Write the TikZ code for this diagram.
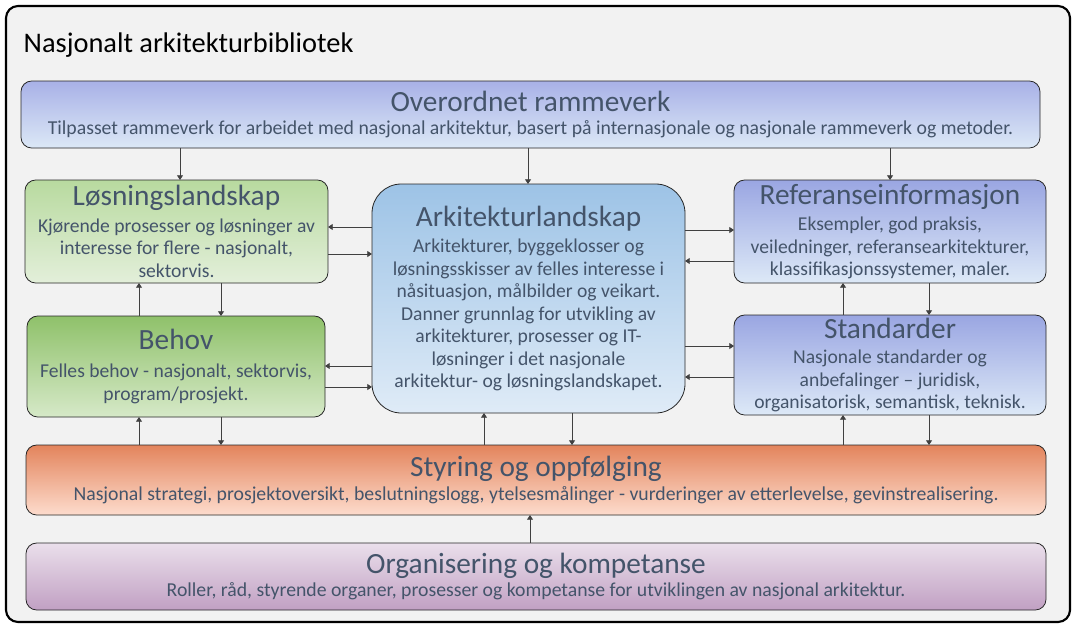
\documentclass[tikz,border=0pt]{standalone}
\usepackage{fontspec}
\setmainfont{Carlito}
\usepackage{tikz}
\usetikzlibrary{arrows.meta,positioning,calc}
\definecolor{txt}{HTML}{44546A}
\definecolor{arrgray}{HTML}{404040}
\definecolor{panel}{HTML}{F2F2F2}
\definecolor{lavtop}{HTML}{A8B1E7}
\definecolor{lavbot}{HTML}{DCE8F6}
\definecolor{reftop}{HTML}{9AA6E2}
\definecolor{refbot}{HTML}{DDE9F7}
\definecolor{arktop}{HTML}{9DC3E6}
\definecolor{arkbot}{HTML}{DFEBF7}
\definecolor{lostop}{HTML}{B8DA9F}
\definecolor{losbot}{HTML}{E3EFDA}
\definecolor{behtop}{HTML}{8FC16A}
\definecolor{behbot}{HTML}{D6E9C8}
\definecolor{stytop}{HTML}{E3845C}
\definecolor{stybot}{HTML}{FDDCCD}
\definecolor{orgtop}{HTML}{EADFEB}
\definecolor{orgbot}{HTML}{C1A0C3}
\tikzset{
  box/.style={draw=black!85,line width=0.6pt,rounded corners=8pt,inner sep=0pt,outer sep=0pt,align=center,text=txt,font=\fontsize{14.7}{16.9}\selectfont},
  arr/.style={-{Triangle[length=3.5pt,width=4.5pt]},draw=arrgray,line width=0.6pt},
}
\newcommand{\boxhead}[1]{{\fontsize{22}{24}\selectfont #1}}
\newcommand{\boxsub}[1]{{\fontsize{14.8}{16}\selectfont #1}}

\begin{document}
\begin{tikzpicture}[x=0.75pt,y=-0.75pt]
 \useasboundingbox (0,0) rectangle (1077,628);
 \draw[fill=panel,line width=1.6pt,rounded corners=9pt] (6,6) rectangle (1070,622);
 \node[anchor=base west,font=\fontsize{21.3}{24}\selectfont] (title) at (19,52) {Nasjonalt arkitekturbibliotek};
 % blocks
 \node[box,top color=lavtop,bottom color=lavbot,minimum width=764.25pt,minimum height=50.25pt] (ovr) at (530.5,114.5)
   {\boxhead{Overordnet rammeverk}\\[1pt]\boxsub{Tilpasset rammeverk for arbeidet med nasjonal arkitektur, basert på internasjonale og nasjonale rammeverk og metoder.}};
 \node[box,top color=lostop,bottom color=losbot,minimum width=227.25pt,minimum height=77.25pt] (los) at (176.5,231.5)
   {\boxhead{Løsningslandskap}\\[3pt]Kjørende prosesser og løsninger av\\interesse for flere - nasjonalt,\\sektorvis.};
 \node[box,top color=behtop,bottom color=behbot,minimum width=223.5pt,minimum height=75.75pt] (beh) at (176,366.5)
   {\boxhead{Behov}\\[4pt]Felles behov - nasjonalt, sektorvis,\\program/prosjekt.};
 \node[box,rounded corners=22pt,top color=arktop,bottom color=arkbot,minimum width=234.75pt,minimum height=171.75pt] (ark) at (528.5,298.5)
   {\boxhead{Arkitekturlandskap}\\[3pt]Arkitekturer, byggeklosser og\\løsningsskisser av felles interesse i\\nåsituasjon, målbilder og veikart.\\Danner grunnlag for utvikling av\\arkitekturer, prosesser og IT-\\løsninger i det nasjonale\\arkitektur- og løsningslandskapet.};
 \node[box,top color=reftop,bottom color=refbot,minimum width=234pt,minimum height=77.25pt] (ref) at (890,231.5)
   {\boxhead{Referanseinformasjon}\\[3pt]Eksempler, god praksis,\\veiledninger, referansearkitekturer,\\klassifikasjonssystemer, maler.};
 \node[box,top color=reftop,bottom color=refbot,minimum width=234pt,minimum height=75pt] (std) at (890,365)
   {\boxhead{Standarder}\\[2pt]Nasjonale standarder og\\anbefalinger – juridisk,\\organisatorisk, semantisk, teknisk.};
 \node[box,top color=stytop,bottom color=stybot,minimum width=765pt,minimum height=52.5pt] (sty) at (536,480)
   {\boxhead{Styring og oppfølging}\\[1pt]\boxsub{Nasjonal strategi, prosjektoversikt, beslutningslogg, ytelsesmålinger - vurderinger av etterlevelse, gevinstrealisering.}};
 \node[box,top color=orgtop,bottom color=orgbot,minimum width=765pt,minimum height=50.25pt] (org) at (536,576.5)
   {\boxhead{Organisering og kompetanse}\\[1pt]\boxsub{Roller, råd, styrende organer, prosesser og kompetanse for utviklingen av nasjonal arkitektur.}};
 % vertical connectors
 \foreach \xx/\a/\b in {180/ovr/los,528/ovr/ark,890/ovr/ref,221/los/beh,221/beh/sty,572/ark/sty,929/ref/std,929/std/sty}
   \draw[arr] (\a.south -| \xx,0) -- (\b.north -| \xx,0);
 \foreach \xx/\a/\b in {139/beh/los,139/sty/beh,484/sty/ark,843/std/ref,843/sty/std,530/org/sty}
   \draw[arr] (\a.north -| \xx,0) -- (\b.south -| \xx,0);
 % horizontal connectors
 \foreach \yy/\a/\b in {227/ark.west/los.east,254/los.east/ark.west,366/ark.west/beh.east,387/beh.east/ark.west,230/ark.east/ref.west,261/ref.west/ark.east,346/ark.east/std.west,377/std.west/ark.east}
   \draw[arr] (\a |- 0,\yy) -- (\b |- 0,\yy);
\end{tikzpicture}
\end{document}
